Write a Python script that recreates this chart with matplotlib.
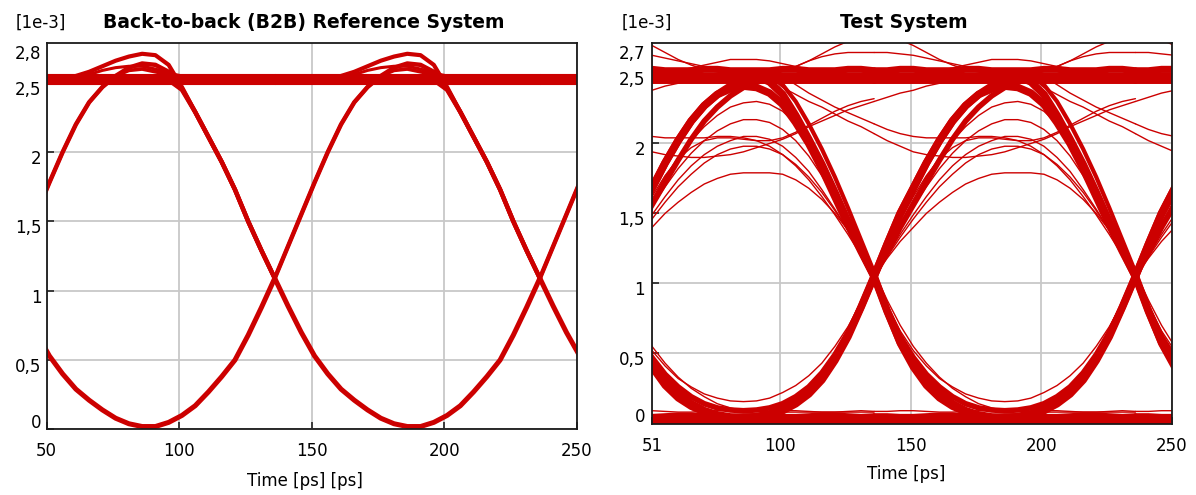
import matplotlib
matplotlib.use("Agg")
import matplotlib.pyplot as plt
from matplotlib.transforms import ScaledTranslation, blended_transform_factory

# ---------------- data ----------------
# one unit interval, crossing-to-crossing, relative time in ps
ui_rel = [0, 5, 10, 15, 20, 25, 30, 35, 40, 45, 50, 55, 60, 65, 70, 75, 80, 85, 90, 95, 100]
left_crossings = [36, 136, 236]
right_crossings = [36, 136, 236]

# Left panel: Back-to-back reference system (amplitude in 1e-3)
b2b_high = [2.53, 2.53, 2.53, 2.53, 2.53, 2.53, 2.53, 2.53, 2.53, 2.53, 2.53,
            2.53, 2.53, 2.53, 2.53, 2.53, 2.53, 2.53, 2.53, 2.53, 2.53]
b2b_high_fall = [2.53, 2.53, 2.53, 2.53, 2.53, 2.53, 2.53, 2.53, 2.53, 2.53, 2.53,
                 2.53, 2.52, 2.45, 2.29, 2.11, 1.93, 1.73, 1.50, 1.29, 1.09]
b2b_hump_fall = [2.53, 2.53, 2.53, 2.53, 2.53, 2.55, 2.58, 2.62, 2.66, 2.69, 2.71,
                 2.70, 2.63, 2.47, 2.29, 2.11, 1.93, 1.73, 1.50, 1.29, 1.09]
b2b_hump_high = [2.53, 2.53, 2.53, 2.53, 2.53, 2.54, 2.56, 2.59, 2.61, 2.62, 2.62,
                 2.60, 2.57, 2.55, 2.53, 2.53, 2.53, 2.53, 2.53, 2.53, 2.53]
b2b_one = [1.09, 1.32, 1.55, 1.78, 2.00, 2.20, 2.36, 2.47, 2.55, 2.61, 2.64,
           2.63, 2.58, 2.46, 2.29, 2.11, 1.93, 1.73, 1.50, 1.29, 1.09]
b2b_rise_high = [1.09, 1.32, 1.55, 1.78, 2.00, 2.20, 2.36, 2.47, 2.55, 2.59, 2.60,
                 2.58, 2.56, 2.54, 2.53, 2.53, 2.53, 2.53, 2.53, 2.53, 2.53]
b2b_zero = [1.09, 0.89, 0.70, 0.53, 0.40, 0.29, 0.21, 0.14, 0.08, 0.04, 0.02,
            0.02, 0.05, 0.10, 0.17, 0.27, 0.38, 0.50, 0.68, 0.88, 1.09]

# Right panel: test system (amplitude in 1e-3)
t_high_a = [2.45, 2.45, 2.45, 2.45, 2.45, 2.45, 2.45, 2.45, 2.45, 2.45, 2.45,
            2.45, 2.45, 2.45, 2.45, 2.45, 2.45, 2.45, 2.45, 2.45, 2.45]
t_high_b = [2.52, 2.52, 2.53, 2.53, 2.52, 2.52, 2.52, 2.53, 2.53, 2.52, 2.52,
            2.52, 2.52, 2.53, 2.53, 2.52, 2.52, 2.52, 2.53, 2.53, 2.52]
t_over_up = [2.50, 2.50, 2.50, 2.50, 2.50, 2.50, 2.50, 2.50, 2.50, 2.50, 2.50,
             2.50, 2.50, 2.52, 2.55, 2.59, 2.64, 2.69, 2.73, 2.76, 2.78]
t_over_down = [2.78, 2.77, 2.74, 2.70, 2.65, 2.60, 2.56, 2.53, 2.51, 2.50, 2.50,
               2.50, 2.50, 2.50, 2.50, 2.50, 2.50, 2.50, 2.50, 2.50, 2.50]
t_hump = [2.52, 2.52, 2.52, 2.52, 2.52, 2.52, 2.54, 2.56, 2.58, 2.60, 2.60,
          2.60, 2.59, 2.57, 2.55, 2.53, 2.52, 2.52, 2.52, 2.52, 2.52]
t_upper_a = [2.52, 2.52, 2.52, 2.52, 2.52, 2.52, 2.52, 2.52, 2.52, 2.52, 2.52,
             2.52, 2.52, 2.52, 2.55, 2.59, 2.62, 2.64, 2.65, 2.65, 2.65]
t_upper_b = [2.65, 2.65, 2.64, 2.63, 2.61, 2.59, 2.57, 2.55, 2.53, 2.52, 2.52,
             2.52, 2.52, 2.52, 2.52, 2.52, 2.52, 2.52, 2.52, 2.52, 2.52]
t_under_rise = [2.30, 2.33, 2.36, 2.38, 2.41, 2.43, 2.45, 2.47, 2.48, 2.48, 2.48,
                2.48, 2.48, 2.48, 2.48, 2.48, 2.48, 2.48, 2.48, 2.48, 2.48]
t_slow_fall_a = [2.48, 2.48, 2.48, 2.48, 2.48, 2.48, 2.48, 2.48, 2.48, 2.48, 2.48,
                 2.48, 2.48, 2.40, 2.35, 2.30, 2.26, 2.21, 2.16, 2.12, 2.07]
t_slow_mid_a = [2.07, 2.02, 1.98, 1.94, 1.92, 1.91, 1.90, 1.90, 1.91, 1.92, 1.94,
                1.97, 2.00, 2.03, 2.07, 2.12, 2.16, 2.20, 2.24, 2.27, 2.30]
t_slow_fall_b = [2.48, 2.48, 2.48, 2.48, 2.48, 2.48, 2.48, 2.48, 2.48, 2.48, 2.48,
                 2.48, 2.48, 2.48, 2.42, 2.36, 2.31, 2.26, 2.22, 2.18, 2.14]
t_slow_mid_b = [2.14, 2.10, 2.07, 2.05, 2.04, 2.04, 2.04, 2.04, 2.05, 2.05, 2.04,
                2.02, 1.98, 1.92, 1.84, 1.74, 1.62, 1.49, 1.35, 1.20, 1.06]
t_flat_rise = [1.05, 1.25, 1.45, 1.62, 1.77, 1.89, 1.97, 2.02, 2.04, 2.04, 2.03,
               2.02, 2.02, 2.04, 2.08, 2.13, 2.18, 2.23, 2.27, 2.30, 2.32]
t_arc_230 = [1.05, 1.24, 1.43, 1.60, 1.76, 1.90, 2.02, 2.12, 2.20, 2.26, 2.29,
             2.30, 2.28, 2.23, 2.14, 2.01, 1.85, 1.67, 1.47, 1.26, 1.05]
t_arc_217 = [1.05, 1.22, 1.39, 1.55, 1.69, 1.82, 1.93, 2.02, 2.09, 2.14, 2.17,
             2.17, 2.15, 2.10, 2.02, 1.91, 1.77, 1.61, 1.43, 1.24, 1.05]
t_arc_205 = [1.05, 1.20, 1.35, 1.49, 1.62, 1.74, 1.84, 1.92, 1.98, 2.02, 2.05,
             2.05, 2.03, 1.98, 1.90, 1.80, 1.67, 1.53, 1.38, 1.22, 1.05]
t_arc_198 = [1.05, 1.19, 1.33, 1.46, 1.58, 1.69, 1.78, 1.86, 1.92, 1.96, 1.98,
             1.98, 1.96, 1.92, 1.85, 1.76, 1.65, 1.52, 1.38, 1.22, 1.05]
t_arc_179 = [1.05, 1.18, 1.30, 1.40, 1.50, 1.58, 1.65, 1.71, 1.75, 1.78, 1.79,
             1.79, 1.79, 1.78, 1.74, 1.68, 1.60, 1.50, 1.38, 1.24, 1.08]
t_rise_high = [1.05, 1.28, 1.50, 1.68, 1.86, 2.02, 2.16, 2.27, 2.35, 2.41, 2.45,
               2.47, 2.48, 2.48, 2.48, 2.48, 2.48, 2.48, 2.48, 2.48, 2.48]
t_rise_high_late = [1.05, 1.22, 1.40, 1.56, 1.72, 1.88, 2.03, 2.16, 2.26, 2.34, 2.40,
                    2.44, 2.46, 2.47, 2.48, 2.48, 2.48, 2.48, 2.48, 2.48, 2.48]
t_one = [1.05, 1.28, 1.50, 1.68, 1.86, 2.02, 2.16, 2.27, 2.35, 2.39, 2.41,
         2.40, 2.36, 2.28, 2.15, 2.00, 1.82, 1.62, 1.42, 1.23, 1.05]
t_high_fall = [2.48, 2.48, 2.48, 2.48, 2.48, 2.48, 2.48, 2.48, 2.48, 2.48, 2.48,
               2.48, 2.44, 2.35, 2.20, 2.03, 1.85, 1.65, 1.44, 1.24, 1.05]
t_high_fall_late = [2.48, 2.48, 2.48, 2.48, 2.48, 2.48, 2.48, 2.48, 2.48, 2.48, 2.48,
                    2.48, 2.48, 2.42, 2.30, 2.14, 1.96, 1.76, 1.54, 1.31, 1.08]
t_zero_deep = [1.05, 0.80, 0.58, 0.42, 0.30, 0.21, 0.14, 0.09, 0.06, 0.045, 0.04,
               0.045, 0.06, 0.09, 0.14, 0.21, 0.31, 0.45, 0.62, 0.83, 1.05]
t_zero_mid = [1.05, 0.82, 0.62, 0.47, 0.35, 0.26, 0.19, 0.14, 0.11, 0.095, 0.09,
              0.095, 0.11, 0.14, 0.19, 0.26, 0.36, 0.49, 0.65, 0.84, 1.05]
t_zero_shallow = [1.05, 0.84, 0.66, 0.52, 0.41, 0.32, 0.26, 0.21, 0.18, 0.16, 0.155,
                  0.16, 0.18, 0.22, 0.27, 0.34, 0.43, 0.55, 0.69, 0.86, 1.05]
t_fall_low = [1.05, 0.80, 0.57, 0.40, 0.27, 0.18, 0.12, 0.08, 0.055, 0.04, 0.035,
              0.035, 0.035, 0.035, 0.035, 0.035, 0.035, 0.035, 0.035, 0.035, 0.035]
t_fall_low_slow = [1.08, 0.88, 0.70, 0.55, 0.43, 0.33, 0.25, 0.19, 0.14, 0.11, 0.09,
                   0.085, 0.08, 0.08, 0.08, 0.08, 0.08, 0.08, 0.08, 0.08, 0.08]
t_low_rise = [0.035, 0.035, 0.035, 0.035, 0.035, 0.035, 0.035, 0.035, 0.035, 0.035, 0.04,
              0.05, 0.07, 0.10, 0.15, 0.22, 0.32, 0.46, 0.63, 0.83, 1.05]
t_low_a = [0.015, 0.015, 0.015, 0.015, 0.015, 0.015, 0.015, 0.015, 0.015, 0.015, 0.015,
           0.015, 0.015, 0.015, 0.015, 0.015, 0.015, 0.015, 0.015, 0.015, 0.015]
t_low_b = [0.06, 0.06, 0.055, 0.055, 0.06, 0.065, 0.065, 0.06, 0.055, 0.055, 0.06,
           0.06, 0.06, 0.055, 0.055, 0.06, 0.065, 0.065, 0.06, 0.055, 0.06]
t_low_c = [0.085, 0.085, 0.09, 0.09, 0.085, 0.08, 0.08, 0.085, 0.09, 0.09, 0.085,
           0.085, 0.085, 0.09, 0.09, 0.085, 0.08, 0.08, 0.085, 0.09, 0.085]

left_y_ticks = [0, 0.5, 1, 1.5, 2, 2.5]
left_y_labels = ["0", "0,5", "1", "1,5", "2", "2,5"]
left_y_top = 2.79
left_y_top_label = "2,8"
left_x_ticks = [50, 100, 150, 200, 250]

right_y_ticks = [0, 0.5, 1, 1.5, 2, 2.5]
right_y_labels = ["0", "0,5", "1", "1,5", "2", "2,5"]
right_y_top = 2.72
right_y_top_label = "2,7"
right_x_ticks = [51, 100, 150, 200, 250]

left_title = "Back-to-back (B2B) Reference System"
right_title = "Test System"
left_xlabel = "Time [ps] [ps]"
right_xlabel = "Time [ps]"
scale_label = "[1e-3]"

# ---------------- drawing ----------------
RED = "#cc0000"
W, H = 1196, 495
fig = plt.figure(figsize=(W / 100, H / 100), dpi=100)
FONT = "DejaVu Sans"
plt.rcParams["font.family"] = [FONT]


def px(x, y):
    return x / W, 1 - y / H


def draw(ax, crossings, shape, lw):
    for c in crossings:
        ax.plot([c + r for r in ui_rel], shape, color=RED, lw=lw,
                solid_capstyle="round", solid_joinstyle="round", zorder=3)


def style_axes(ax, xticks, yticks, ylabels, ytop, ytop_label, gap_px):
    ax.set_xticks(xticks)
    ax.set_xticklabels([str(v) for v in xticks], fontsize=12)
    ax.set_yticks(yticks)
    ax.set_yticklabels([])
    ax.tick_params(direction="in", length=5, width=1.2, color="#222222",
                   labelsize=12, pad=9.5)
    ax.grid(True, color="#c8c8c8", lw=1.3)
    ax.set_axisbelow(True)
    for s in ax.spines.values():
        s.set_color("#1a1a1a")
        s.set_linewidth(1.3)
        s.set_zorder(5)
    trans = blended_transform_factory(ax.transAxes, ax.transData)
    for v, lab in zip(yticks, ylabels):
        dy = 6 if v == 0 else -7
        t = trans + ScaledTranslation(-gap_px / 100, dy / 100, fig.dpi_scale_trans)
        ax.text(0, v, lab, transform=t, ha="right", va="center", fontsize=12)
    t = trans + ScaledTranslation(-gap_px / 100, -11 / 100, fig.dpi_scale_trans)
    ax.text(0, ytop, ytop_label, transform=t, ha="right", va="center", fontsize=12)


# Left panel
x0, y1 = px(46.7, 429.3)
x1, y0 = px(577, 42.7)
axL = fig.add_axes([x0, y1, x1 - x0, y0 - y1])
axL.set_xlim(50, 250)
axL.set_ylim(0, left_y_top)
draw(axL, left_crossings, b2b_high, 8)
draw(axL, left_crossings, b2b_hump_high, 2.2)
draw(axL, left_crossings, b2b_hump_fall, 3.0)
draw(axL, left_crossings, b2b_rise_high, 2.6)
draw(axL, left_crossings, b2b_one, 3.2)
draw(axL, left_crossings, b2b_high_fall, 3.2)
draw(axL, left_crossings, b2b_zero, 3.6)
style_axes(axL, left_x_ticks, left_y_ticks, left_y_labels, left_y_top,
           left_y_top_label, 5)

# Right panel
x0, y1 = px(652, 424)
x1, y0 = px(1172, 42.7)
axR = fig.add_axes([x0, y1, x1 - x0, y0 - y1])
axR.set_xlim(51, 250)
axR.set_ylim(-0.005, right_y_top)
thin = 1.0
for shape, lw in [
    (t_high_a, 5.0), (t_high_b, 5.0),
    (t_low_a, 5.0), (t_low_b, 2.5), (t_low_c, thin),
    (t_over_up, thin), (t_over_down, thin), (t_hump, thin),
    (t_upper_a, thin), (t_upper_b, thin), (t_under_rise, thin),
    (t_slow_fall_a, thin), (t_slow_mid_a, thin),
    (t_slow_fall_b, thin), (t_slow_mid_b, thin), (t_flat_rise, thin),
    (t_arc_230, thin), (t_arc_217, thin), (t_arc_205, thin),
    (t_arc_198, thin), (t_arc_179, thin),
    (t_rise_high, 5.5), (t_rise_high_late, 4.0), (t_one, 5.5),
    (t_high_fall, 5.5), (t_high_fall_late, 3.0),
    (t_zero_deep, 5.5), (t_zero_mid, 4.0), (t_zero_shallow, thin),
    (t_fall_low, 5.0), (t_fall_low_slow, thin), (t_low_rise, 5.0),
]:
    draw(axR, right_crossings, shape, lw)
style_axes(axR, right_x_ticks, right_y_ticks, right_y_labels, right_y_top,
           right_y_top_label, 7)

# Titles and labels
fig.text(*px(41, 23), scale_label, ha="center", va="center", fontsize=12)
fig.text(*px(304, 23), left_title, ha="center", va="center", fontsize=13.5,
         fontweight="bold")
fig.text(*px(647, 23), scale_label, ha="center", va="center", fontsize=12)
fig.text(*px(904, 23), right_title, ha="center", va="center", fontsize=13.5,
         fontweight="bold")
fig.text(*px(305, 481), left_xlabel, ha="center", va="center", fontsize=12)
fig.text(*px(906, 474), right_xlabel, ha="center", va="center", fontsize=12)

fig.savefig("out.png", dpi=100, facecolor="white")
